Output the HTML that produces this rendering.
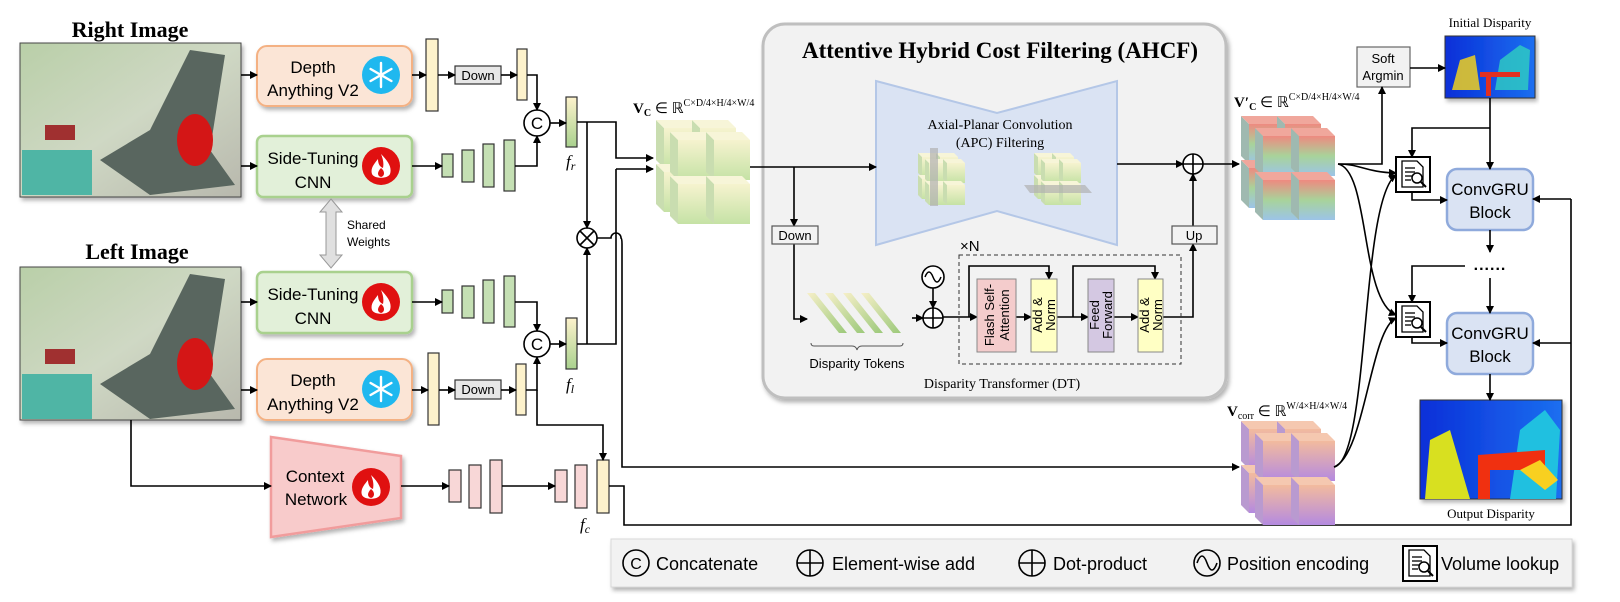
<!DOCTYPE html>
<html><head><meta charset="utf-8"><style>
html,body{margin:0;padding:0;background:#fff;}
svg{display:block;}
.s{font-family:"Liberation Sans",sans-serif;}
.r{font-family:"Liberation Serif",serif;}
</style></head><body>
<svg width="1620" height="602" viewBox="0 0 1620 602" xmlns="http://www.w3.org/2000/svg">
<defs>
<marker id="a" markerWidth="8" markerHeight="8" refX="7" refY="4" orient="auto" markerUnits="userSpaceOnUse"><path d="M0,0 L8,4 L0,8 z" fill="#000"/></marker>
<linearGradient id="gy" x1="0" y1="0" x2="0" y2="1"><stop offset="0" stop-color="#f6f3cf"/><stop offset="1" stop-color="#c5e2a5"/></linearGradient>
<linearGradient id="gv" x1="0" y1="0" x2="0" y2="1"><stop offset="0" stop-color="#ee8a80"/><stop offset="0.5" stop-color="#a8d39a"/><stop offset="1" stop-color="#9cc4e8"/></linearGradient>
<linearGradient id="gc" x1="0" y1="0" x2="0" y2="1"><stop offset="0" stop-color="#f3bb9e"/><stop offset="1" stop-color="#b48ae0"/></linearGradient>
<linearGradient id="fr" x1="0" y1="0" x2="0" y2="1"><stop offset="0" stop-color="#fdf2cc"/><stop offset="1" stop-color="#a9d18e"/></linearGradient>
<linearGradient id="tok" x1="0" y1="0" x2="1" y2="1"><stop offset="0" stop-color="#f6efc8"/><stop offset="1" stop-color="#9cc97a"/></linearGradient>
<linearGradient id="img" x1="0" y1="0" x2="1" y2="1"><stop offset="0" stop-color="#b9cfa8"/><stop offset="0.5" stop-color="#cfd8c4"/><stop offset="1" stop-color="#b8b8ad"/></linearGradient>
<linearGradient id="disp" x1="0" y1="0" x2="1" y2="0"><stop offset="0" stop-color="#0a2fd8"/><stop offset="1" stop-color="#1b6ff0"/></linearGradient>
<g id="cy"><polygon points="0,0 8,8 8,48 0,40" fill="#c9ddb0"/><polygon points="0,0 36,0 44,8 8,8" fill="#f7f5d8"/><rect x="8" y="8" width="36" height="40" fill="url(#gy)"/></g>
<g id="cv"><polygon points="0,0 8,8 8,48 0,40" fill="#9fb9b0"/><polygon points="0,0 36,0 44,8 8,8" fill="#f0a79c"/><rect x="8" y="8" width="36" height="40" fill="url(#gv)"/></g>
<g id="cc"><polygon points="0,0 8,8 8,48 0,40" fill="#b99ad0"/><polygon points="0,0 36,0 44,8 8,8" fill="#f5c8b0"/><rect x="8" y="8" width="36" height="40" fill="url(#gc)"/></g>
<g id="Cy"><use href="#cy" x="0" y="0"/><use href="#cy" x="36" y="0"/><use href="#cy" x="0" y="44"/><use href="#cy" x="36" y="44"/><use href="#cy" x="14" y="12"/><use href="#cy" x="50" y="12"/><use href="#cy" x="14" y="56"/><use href="#cy" x="50" y="56"/></g>
<g id="Cv"><use href="#cv" x="0" y="0"/><use href="#cv" x="36" y="0"/><use href="#cv" x="0" y="44"/><use href="#cv" x="36" y="44"/><use href="#cv" x="14" y="12"/><use href="#cv" x="50" y="12"/><use href="#cv" x="14" y="56"/><use href="#cv" x="50" y="56"/></g>
<g id="Cc"><use href="#cc" x="0" y="0"/><use href="#cc" x="36" y="0"/><use href="#cc" x="0" y="44"/><use href="#cc" x="36" y="44"/><use href="#cc" x="14" y="12"/><use href="#cc" x="50" y="12"/><use href="#cc" x="14" y="56"/><use href="#cc" x="50" y="56"/></g>
<g id="flame"><circle r="19" fill="#e01010"/><path d="M0,-12 C8,-4 11,2 9,8 C7,13 -7,13 -9,8 C-11,2 -6,-3 -3,-7 C-3,-2 -1,1 2,2 C3,-3 2,-7 0,-12z" fill="#fff"/><path d="M0,2 C4,5 4,10 0,11 C-4,10 -4,6 0,2z" fill="#e01010"/></g>
<g id="snow"><circle r="19" fill="#1fb8ef"/><g stroke="#fff" stroke-width="2.4" stroke-linecap="round"><line x1="0" y1="-12" x2="0" y2="12"/><line x1="-10.4" y1="-6" x2="10.4" y2="6"/><line x1="-10.4" y1="6" x2="10.4" y2="-6"/></g></g>
<g id="look"><rect x="0" y="0" width="34" height="35" fill="#fff" stroke="#000" stroke-width="2"/><path d="M6,4 h15 l6,6 v20 h-21z" fill="#fff" stroke="#000" stroke-width="1.3"/><g stroke="#000" stroke-width="1.3"><line x1="9" y1="11" x2="19" y2="11"/><line x1="9" y1="15" x2="19" y2="15"/><line x1="9" y1="19" x2="16" y2="19"/><line x1="9" y1="23" x2="15" y2="23"/></g><circle cx="21" cy="21" r="5" fill="#fff" stroke="#000" stroke-width="1.5"/><line x1="25" y1="25" x2="30" y2="30" stroke="#000" stroke-width="2"/></g>
<filter id="sh" x="-5%" y="-5%" width="110%" height="120%"><feDropShadow dx="2" dy="3" stdDeviation="2" flood-color="#000" flood-opacity="0.3"/></filter>
</defs>

<text x="130" y="37" text-anchor="middle" class="r" font-size="22" font-weight="bold">Right Image</text>
<text x="137" y="259" text-anchor="middle" class="r" font-size="22" font-weight="bold">Left Image</text>

<g filter="url(#sh)">
<rect x="20" y="43" width="221" height="154" fill="url(#img)" stroke="#444"/>
<rect x="20" y="267" width="221" height="153" fill="url(#img)" stroke="#444"/>
</g>
<g fill="#59665f">
<polygon points="190,50 225,55 210,150 235,185 150,195 100,160 150,130"/>
<polygon points="190,274 225,279 210,374 235,409 150,419 100,384 150,354"/>
</g>
<g fill="#4fb5a5"><rect x="22" y="150" width="70" height="45"/><rect x="22" y="374" width="70" height="45"/></g>
<g fill="#d41616"><ellipse cx="195" cy="140" rx="18" ry="26"/><ellipse cx="195" cy="364" rx="18" ry="26"/></g>
<g fill="#a03030"><rect x="45" y="125" width="30" height="15"/><rect x="45" y="349" width="30" height="15"/></g>

<g filter="url(#sh)">
<rect x="257" y="46" width="155" height="60" rx="10" fill="#fbe5d6" stroke="#f4b183" stroke-width="2"/>
<rect x="257" y="359" width="155" height="61" rx="10" fill="#fbe5d6" stroke="#f4b183" stroke-width="2"/>
<rect x="257" y="136" width="155" height="61" rx="6" fill="#e2f0d9" stroke="#a9d18e" stroke-width="2.5"/>
<rect x="257" y="272" width="155" height="61" rx="6" fill="#e2f0d9" stroke="#a9d18e" stroke-width="2.5"/>
<polygon points="271,437 401,456 401,518 271,537" fill="#f8cbcb" stroke="#f19c9c" stroke-width="2.5"/>
</g>
<g class="s" font-size="17" text-anchor="middle">
<text x="313" y="73">Depth</text><text x="313" y="96">Anything V2</text>
<text x="313" y="386">Depth</text><text x="313" y="410">Anything V2</text>
<text x="313" y="164">Side-Tuning</text><text x="313" y="188">CNN</text>
<text x="313" y="300">Side-Tuning</text><text x="313" y="324">CNN</text>
<text x="315" y="482">Context</text><text x="316" y="505">Network</text>
</g>
<use href="#snow" x="381" y="75"/><use href="#snow" x="381" y="389"/>
<use href="#flame" x="381" y="166"/><use href="#flame" x="381" y="302"/><use href="#flame" x="371" y="487"/>

<polygon points="331,199 342,212 336,212 336,255 342,255 331,268 320,255 326,255 326,212 320,212" fill="#e0e0e0" stroke="#999"/>
<text x="347" y="229" class="s" font-size="12">Shared</text><text x="347" y="246" class="s" font-size="12">Weights</text>

<g stroke="#333" stroke-width="1.2">
<rect x="426" y="39" width="12" height="72" fill="#fdf2cc"/>
<rect x="517" y="49" width="10" height="51" fill="#fdf2cc"/>
<rect x="428" y="353" width="11" height="72" fill="#fdf2cc"/>
<rect x="516" y="364" width="10" height="51" fill="#fdf2cc"/>
<rect x="442" y="154" width="11" height="23" fill="#c5e0b4"/><rect x="462" y="150" width="12" height="32" fill="#c5e0b4"/><rect x="483" y="144" width="11" height="43" fill="#c5e0b4"/><rect x="504" y="140" width="11" height="51" fill="#c5e0b4"/>
<rect x="442" y="290" width="11" height="23" fill="#c5e0b4"/><rect x="462" y="286" width="12" height="32" fill="#c5e0b4"/><rect x="483" y="280" width="11" height="43" fill="#c5e0b4"/><rect x="504" y="276" width="11" height="51" fill="#c5e0b4"/>
<rect x="566" y="97" width="11" height="50" fill="url(#fr)"/>
<rect x="566" y="318" width="11" height="51" fill="url(#fr)"/>
<rect x="449" y="470" width="12" height="32" fill="#f8d7d7"/><rect x="469" y="465" width="12" height="43" fill="#f8d7d7"/><rect x="490" y="460" width="12" height="53" fill="#f8d7d7"/>
<rect x="555" y="470" width="12" height="32" fill="#f8d7d7"/><rect x="575" y="465" width="12" height="43" fill="#f8d7d7"/><rect x="597" y="460" width="12" height="53" fill="#fdf2cc"/>
<rect x="455" y="66" width="46" height="18" fill="#e7e7e7"/>
<rect x="455" y="380" width="46" height="19" fill="#e7e7e7"/>
</g>
<g class="s" font-size="13" text-anchor="middle"><text x="478" y="80">Down</text><text x="478" y="394">Down</text></g>
<g class="r" font-size="17" font-style="italic"><text x="566" y="167">f<tspan font-size="12" dy="3">r</tspan></text><text x="566" y="390">f<tspan font-size="12" dy="3">l</tspan></text><text x="580" y="530">f<tspan font-size="12" dy="3">c</tspan></text></g>

<g fill="#fff" stroke="#000" stroke-width="1.6">
<circle cx="537" cy="123" r="13"/><circle cx="537" cy="344" r="13"/>
<circle cx="587" cy="238" r="10"/>
</g>
<g class="s" font-size="17" text-anchor="middle"><text x="537" y="129">C</text><text x="537" y="350">C</text></g>
<g stroke="#000" stroke-width="1.6"><line x1="580" y1="231" x2="594" y2="245"/><line x1="594" y1="231" x2="580" y2="245"/></g>

<g fill="none" stroke="#000" stroke-width="1.6" marker-end="url(#a)">
<path d="M241,75 H257"/><path d="M241,166 H257"/><path d="M241,302 H257"/><path d="M241,390 H257"/>
<path d="M412,75 H426"/><path d="M438,75 H455"/><path d="M501,75 H517"/>
<path d="M527,75 H537 V110"/>
<path d="M412,166 H442"/><path d="M515,166 H537 V136"/>
<path d="M550,123 H566"/>
<path d="M577,122 H616 V158 H653"/>
<path d="M587,122 V228"/>
<path d="M616,169 H653"/>
<path d="M412,302 H442"/><path d="M515,302 H537 V331"/>
<path d="M550,344 H566"/>
<path d="M587,344 V248"/>
<path d="M412,390 H428"/><path d="M439,390 H455"/><path d="M501,390 H516"/>
<path d="M526,390 H537 V357"/>
<path d="M537,390 V425 H603 V460"/>
<path d="M131,420 V486 H271"/>
<path d="M401,486 H449"/><path d="M502,486 H555"/>
<path d="M597,238 H611 A5,5 0 0 1 621,238 Q622,238 622,244 V467 H1239"/>
</g>
<g fill="none" stroke="#000" stroke-width="1.6">
<path d="M577,344 H616 V169"/>
<path d="M609,486 H624 V525 H1571 V199"/>
</g>

<text x="633" y="113" class="r" font-size="15"><tspan font-weight="bold">V</tspan><tspan font-size="10" dy="3" font-weight="bold">C</tspan><tspan dy="-3"> ∈ ℝ</tspan><tspan font-size="10" dy="-7">C×D/4×H/4×W/4</tspan></text>
<use href="#Cy" x="656" y="120"/>

<rect x="763" y="24" width="463" height="374" rx="22" fill="#f2f2f2" stroke="#bfbfbf" stroke-width="3" filter="url(#sh)"/>
<text x="1000" y="58" text-anchor="middle" class="r" font-size="23" font-weight="bold">Attentive Hybrid Cost Filtering (AHCF)</text>
<polygon points="876,81 997,113 1117,81 1117,245 997,211 876,245" fill="#dae3f3" stroke="#b4c7e7" stroke-width="2"/>
<text x="1000" y="129" text-anchor="middle" class="r" font-size="14">Axial-Planar Convolution</text>
<text x="1000" y="147" text-anchor="middle" class="r" font-size="14">(APC) Filtering</text>
<g transform="translate(918,153) scale(0.5)"><use href="#Cy"/></g>
<rect x="930" y="148" width="8" height="58" fill="#b0b0b0" opacity="0.7"/>
<g transform="translate(1034,153) scale(0.5)"><use href="#Cy"/></g>
<polygon points="1024,185 1085,185 1092,193 1030,193" fill="#b0b0b0" opacity="0.7"/>

<g fill="none" stroke="#000" stroke-width="1.6" marker-end="url(#a)">
<path d="M750,167 H876"/>
<path d="M794,167 V226"/>
<path d="M794,244 V319 H807"/>
<path d="M912,318 H923"/>
<path d="M933,288 V308"/>
<path d="M943,317 H977"/>
<path d="M1016,317 H1031"/>
<path d="M1057,317 H1088"/>
<path d="M1114,317 H1138"/>
<path d="M969,317 V266 H1049 V279"/>
<path d="M1073,317 V266 H1155 V279"/>
<path d="M1163,317 H1193 V244"/>
<path d="M1193,226 V174"/>
<path d="M1117,164 H1183"/>
<path d="M1203,164 H1239"/>
</g>
<rect x="772" y="226" width="46" height="18" fill="#f2f2f2" stroke="#555" stroke-width="1.2"/>
<text x="795" y="240" text-anchor="middle" class="s" font-size="13">Down</text>
<rect x="1172" y="226" width="45" height="18" fill="#f2f2f2" stroke="#555" stroke-width="1.2"/>
<text x="1194" y="240" text-anchor="middle" class="s" font-size="13">Up</text>

<g fill="url(#tok)">
<polygon points="807,293 815,293 847,333 839,333"/><polygon points="825,293 833,293 865,333 857,333"/>
<polygon points="843,293 851,293 883,333 875,333"/><polygon points="861,293 869,293 901,333 893,333"/>
</g>
<path d="M811,343 q0,3 3,3 h38 q4,0 5,4 q1,-4 5,-4 h38 q3,0 3,-3" fill="none" stroke="#555" stroke-width="1"/>
<text x="857" y="368" text-anchor="middle" class="s" font-size="13">Disparity Tokens</text>

<circle cx="933" cy="277" r="11" fill="#fff" stroke="#000" stroke-width="1.6"/>
<path d="M925,277 q4,-10 8,0 q4,10 8,0" fill="none" stroke="#000" stroke-width="1.5"/>
<circle cx="933" cy="318" r="10" fill="#fff" stroke="#000" stroke-width="1.6"/>
<path d="M923,318 H943 M933,308 V328" stroke="#000" stroke-width="1.6"/>

<rect x="959" y="255" width="222" height="109" fill="none" stroke="#333" stroke-dasharray="4,3"/>
<text x="960" y="251" class="s" font-size="15">×N</text>
<rect x="977" y="279" width="39" height="73" fill="#f4cccc" stroke="#888"/>
<rect x="1031" y="279" width="26" height="73" fill="#ffffc4" stroke="#888"/>
<rect x="1088" y="279" width="26" height="73" fill="#d4c8e2" stroke="#888"/>
<rect x="1138" y="279" width="25" height="73" fill="#ffffc4" stroke="#888"/>
<g class="s" font-size="13" text-anchor="middle">
<text transform="translate(994,315) rotate(-90)">Flash Self-</text><text transform="translate(1009,315) rotate(-90)">Attention</text>
<text transform="translate(1042,315) rotate(-90)">Add &amp;</text><text transform="translate(1055,315) rotate(-90)">Norm</text>
<text transform="translate(1099,315) rotate(-90)">Feed</text><text transform="translate(1112,315) rotate(-90)">Forward</text>
<text transform="translate(1149,315) rotate(-90)">Add &amp;</text><text transform="translate(1162,315) rotate(-90)">Norm</text>
</g>
<text x="1002" y="388" text-anchor="middle" class="r" font-size="14">Disparity Transformer (DT)</text>

<circle cx="1193" cy="164" r="10" fill="#fff" stroke="#000" stroke-width="1.6"/>
<path d="M1183,164 H1203 M1193,154 V174" stroke="#000" stroke-width="1.6"/>

<text x="1234" y="107" class="r" font-size="15"><tspan font-weight="bold">V′</tspan><tspan font-size="10" dy="3" font-weight="bold">C</tspan><tspan dy="-3"> ∈ ℝ</tspan><tspan font-size="10" dy="-7">C×D/4×H/4×W/4</tspan></text>
<use href="#Cv" x="1241" y="116"/>
<text x="1227" y="416" class="r" font-size="15"><tspan font-weight="bold">V</tspan><tspan font-size="10" dy="3">corr</tspan><tspan dy="-3"> ∈ ℝ</tspan><tspan font-size="10" dy="-7">W/4×H/4×W/4</tspan></text>
<use href="#Cc" x="1241" y="421"/>

<rect x="1357" y="47" width="53" height="40" fill="#f2f2f2" stroke="#666" stroke-width="1.2"/>
<text x="1383" y="63" text-anchor="middle" class="s" font-size="13">Soft</text>
<text x="1383" y="80" text-anchor="middle" class="s" font-size="13">Argmin</text>
<text x="1490" y="27" text-anchor="middle" class="r" font-size="13">Initial Disparity</text>
<rect x="1445" y="36" width="90" height="62" fill="url(#disp)" stroke="#333" filter="url(#sh)"/>
<path d="M1452,90 L1460,60 L1475,55 L1480,90z" fill="#f0d020" opacity="0.85"/>
<path d="M1495,90 L1500,60 L1520,45 L1530,50 L1528,90z" fill="#30d0c0" opacity="0.8"/>
<rect x="1480" y="72" width="40" height="5" fill="#e03020"/><rect x="1486" y="72" width="5" height="24" fill="#e03020"/>
<text x="1491" y="518" text-anchor="middle" class="r" font-size="13">Output Disparity</text>
<rect x="1420" y="400" width="142" height="99" fill="url(#disp)" stroke="#333" filter="url(#sh)"/>
<path d="M1425,499 L1430,440 L1450,430 L1470,499z" fill="#d8e020"/>
<path d="M1510,499 L1520,430 L1545,410 L1560,430 L1556,499z" fill="#20c0e0"/>
<path d="M1478,499 L1478,455 L1545,450 L1545,470 L1490,470 L1490,499z" fill="#f03010"/>
<path d="M1520,470 L1540,460 L1558,480 L1545,490z" fill="#f8d020"/>

<rect x="1447" y="169" width="86" height="61" rx="10" fill="#dae3f3" stroke="#8faadc" stroke-width="2.5"/>
<rect x="1447" y="313" width="86" height="61" rx="10" fill="#dae3f3" stroke="#8faadc" stroke-width="2.5"/>
<g class="s" font-size="17" text-anchor="middle">
<text x="1490" y="195">ConvGRU</text><text x="1490" y="218">Block</text>
<text x="1490" y="339">ConvGRU</text><text x="1490" y="362">Block</text>
</g>
<text x="1490" y="270" text-anchor="middle" class="s" font-size="16" font-weight="bold" letter-spacing="1">......</text>
<use href="#look" x="1396" y="157"/><use href="#look" x="1396" y="302"/>

<g fill="none" stroke="#000" stroke-width="1.6" marker-end="url(#a)">
<path d="M1338,164 H1382 V87"/>
<path d="M1410,68 H1445"/>
<path d="M1490,98 V169"/>
<path d="M1490,128 H1412 V157"/>
<path d="M1412,192 V200 H1447"/>
<path d="M1412,337 V343 H1447"/>
<path d="M1490,230 V252"/>
<path d="M1490,278 V313"/>
<path d="M1465,266 H1412 V302"/>
<path d="M1490,374 V400"/>
<path d="M1571,199 H1533"/>
<path d="M1571,343 H1533"/>
<path d="M1338,164 C1360,164 1365,172 1396,173"/>
<path d="M1338,164 C1370,170 1360,300 1396,315"/>
<path d="M1334,467 C1370,460 1360,200 1396,175"/>
<path d="M1334,467 C1365,455 1370,330 1396,318"/>
</g>

<rect x="611" y="539" width="961" height="48" fill="#f2f2f2" stroke="#d9d9d9" filter="url(#sh)"/>
<g fill="none" stroke="#000" stroke-width="1.6">
<circle cx="636" cy="563" r="13"/>
<circle cx="810" cy="563" r="13"/><path d="M797,563 H823 M810,550 V576"/>
<circle cx="1032" cy="563" r="13"/><path d="M1019,563 H1045 M1032,550 V576"/>
<circle cx="1207" cy="563" r="13"/><path d="M1197,563 q5,-14 10,0 q5,14 10,0"/>
</g>
<text x="636" y="569" text-anchor="middle" class="s" font-size="16">C</text>
<use href="#look" x="1403" y="546"/>
<g class="s" font-size="18">
<text x="656" y="570">Concatenate</text>
<text x="832" y="570">Element-wise add</text>
<text x="1053" y="570">Dot-product</text>
<text x="1227" y="570">Position encoding</text>
<text x="1441" y="570">Volume lookup</text>
</g>
</svg>
</body></html>
